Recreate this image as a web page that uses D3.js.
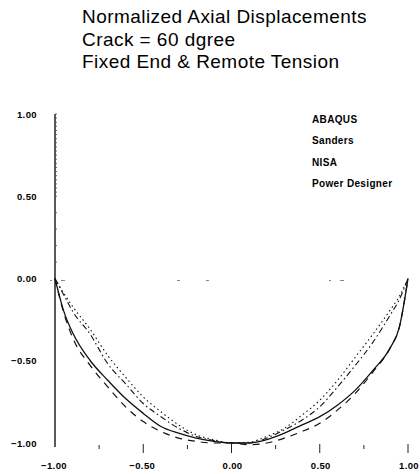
<!DOCTYPE html>
<html>
<head>
<meta charset="utf-8">
<script src="https://cdn.jsdelivr.net/npm/d3@7"></script>
<style>
  html, body { margin: 0; padding: 0; background: #fff; }
  svg { display: block; }
</style>
</head>
<body>
<svg id="chart" width="420" height="474"></svg>
<script>
// ---- data ----
const titleLines = ["Normalized Axial Displacements", "Crack = 60 dgree", "Fixed End & Remote Tension"];
const seriesNames = ["ABAQUS", "Sanders", "NISA", "Power Designer"];
const xValues = [-1, -0.95, -0.9, -0.8, -0.7, -0.6, -0.5, -0.4, -0.3, -0.2, -0.1, 0, 0.1, 0.2, 0.3, 0.4, 0.5, 0.6, 0.7, 0.8, 0.9, 0.95, 1];
const abaqus  = [0, -0.20, -0.33, -0.50, -0.62, -0.73, -0.82, -0.90, -0.94, -0.97, -0.99, -1.00, -1.00, -0.98, -0.94, -0.89, -0.84, -0.77, -0.68, -0.56, -0.42, -0.30, 0];
const sanders = [0, -0.21, -0.36, -0.53, -0.66, -0.78, -0.87, -0.93, -0.97, -0.99, -1.00, -1.00, -1.01, -1.00, -0.97, -0.93, -0.88, -0.80, -0.70, -0.57, -0.42, -0.30, 0];
const nisa    = [0, -0.10, -0.20, -0.34, -0.52, -0.64, -0.76, -0.84, -0.91, -0.96, -0.985, -1.00, -1.00, -0.97, -0.92, -0.86, -0.78, -0.66, -0.53, -0.39, -0.22, -0.13, 0];
const power   = [0, -0.09, -0.17, -0.31, -0.47, -0.60, -0.72, -0.81, -0.89, -0.95, -0.98, -1.00, -0.995, -0.96, -0.91, -0.83, -0.74, -0.62, -0.48, -0.34, -0.19, -0.11, 0];
const xTickLabels = [-1, -0.5, 0, 0.5, 1];
const xMinorTicks = [-0.75, -0.25, 0.25, 0.75];
const yTickLabels = [1, 0.5, 0, -0.5, -1];

// ---- layout ----
const svg = d3.select("#chart");
const x = d3.scaleLinear().domain([-1, 1]).range([55, 408]);
const y = d3.scaleLinear().domain([-1, 1]).range([443, 114]);
const font = "Liberation Sans, Arial, sans-serif";

// title
svg.append("g").selectAll("text").data(titleLines).join("text")
  .attr("x", 82).attr("y", (d, i) => 23 + i * 22.5)
  .attr("font-family", font)
  .attr("font-size", 19).attr("letter-spacing", 0.45).attr("fill", "#000")
  .text(d => d);

// y axis line
svg.append("line").attr("x1", x(-1)).attr("x2", x(-1))
  .attr("y1", y(1)).attr("y2", 447)
  .attr("stroke", "#000").attr("stroke-width", 1.3);

// y minor ticks (right side of axis)
const yMinor = d3.range(0.025, 1.0001, 0.025).filter(v => v > 0.5 || Math.abs((v * 10) % 1) < 0.01);
svg.append("g").selectAll("line").data(yMinor).join("line")
  .attr("x1", x(-1)).attr("x2", x(-1) + 2)
  .attr("y1", d => y(d)).attr("y2", d => y(d))
  .attr("stroke", "#444").attr("stroke-width", 0.8);

// y tick labels
svg.append("g").selectAll("text").data(yTickLabels).join("text")
  .attr("x", 37).attr("y", d => y(d) + 3.5)
  .attr("text-anchor", "end")
  .attr("font-family", font)
  .attr("font-size", 9.5).attr("font-weight", "bold").attr("letter-spacing", 0.4)
  .text(d => d3.format(".2f")(d));

// zero reference line (faint dashed)
svg.append("line").attr("x1", 50).attr("x2", x(1))
  .attr("y1", y(0) + 2).attr("y2", y(0) + 2)
  .attr("stroke", "#777").attr("stroke-width", 0.9)
  .attr("stroke-dasharray", "2,9,4,112,3,26,3,120");

// x ticks
svg.append("g").selectAll("line").data(xTickLabels.filter(d => d > -1)).join("line")
  .attr("x1", d => x(d)).attr("x2", d => x(d))
  .attr("y1", 444).attr("y2", 453)
  .attr("stroke", "#222").attr("stroke-width", 1);
svg.append("g").selectAll("line").data(xMinorTicks).join("line")
  .attr("x1", d => x(d)).attr("x2", d => x(d))
  .attr("y1", 445).attr("y2", 449)
  .attr("stroke", "#222").attr("stroke-width", 1);

// x tick labels
svg.append("g").selectAll("text").data(xTickLabels).join("text")
  .attr("x", d => x(d) + (d < 0 ? -1 : 1)).attr("y", 469)
  .attr("text-anchor", "middle")
  .attr("font-family", font)
  .attr("font-size", 9.5).attr("font-weight", "bold").attr("letter-spacing", 0.4)
  .text(d => d3.format(".2f")(d));

// curves
const allSeries = [
  { name: seriesNames[0], values: abaqus,  dash: null,        width: 1.3 },
  { name: seriesNames[1], values: sanders, dash: "7,6",       width: 1.2 },
  { name: seriesNames[2], values: nisa,    dash: "6,3,1.5,3", width: 1.1 },
  { name: seriesNames[3], values: power,   dash: "1.5,3",     width: 1.1 }
];
const line = d3.line().x((d, i) => x(xValues[i])).y(d => y(d)).curve(d3.curveMonotoneX);
svg.append("g").selectAll("path").data(allSeries).join("path")
  .attr("d", s => line(s.values))
  .attr("fill", "none").attr("stroke", "#111")
  .attr("stroke-width", s => s.width)
  .attr("stroke-dasharray", s => s.dash);

// legend (text only)
svg.append("g").selectAll("text").data(seriesNames).join("text")
  .attr("x", 312).attr("y", (d, i) => 123 + i * 21.3)
  .attr("font-family", font)
  .attr("font-size", 10).attr("font-weight", "bold").attr("letter-spacing", 0.35)
  .text(d => d);
</script>
</body>
</html>
